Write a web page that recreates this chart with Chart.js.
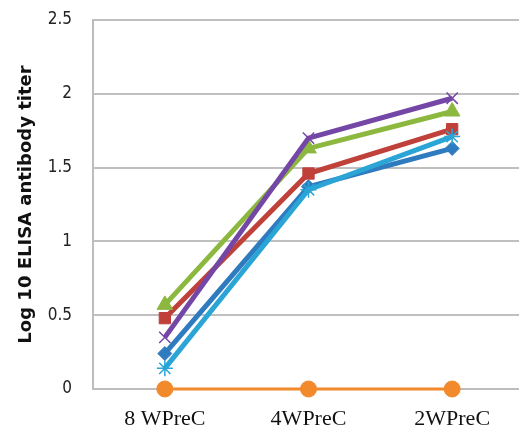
<!DOCTYPE html>
<html>
<head>
<meta charset="utf-8">
<script src="https://cdn.jsdelivr.net/npm/chart.js@4.4.0/dist/chart.umd.min.js"></script>
<style>
html,body{margin:0;padding:0;background:#fff;overflow:hidden;}
#wrap{position:relative;width:524px;height:439px;}
</style>
</head>
<body>
<div id="wrap"><canvas id="c"></canvas></div>
<script>
const categories = ["8 WPreC", "4WPreC", "2WPreC"];
const yTicks = [0, 0.5, 1, 1.5, 2, 2.5];
const seriesBlue   = [0.24, 1.37, 1.63];
const seriesRed    = [0.48, 1.46, 1.76];
const seriesGreen  = [0.57, 1.63, 1.88];
const seriesPurple = [0.35, 1.70, 1.97];
const seriesCyan   = [0.14, 1.35, 1.71];
const seriesOrange = [0, 0, 0];

function ds(data, color, style, radius, ord, extra) {
  return Object.assign({
    data: data,
    borderColor: color,
    backgroundColor: color,
    pointBackgroundColor: color,
    pointBorderColor: color,
    borderWidth: 5,
    pointStyle: style,
    pointRadius: radius,
    pointBorderWidth: 1,
    tension: 0,
    clip: false,
    order: ord
  }, extra || {});
}

new Chart(document.getElementById('c'), {
  type: 'line',
  data: {
    labels: categories,
    datasets: [
      ds(seriesBlue,   '#2f7bc0', 'rectRot',  7, 6),
      ds(seriesRed,    '#c0403a', 'rect',     8, 5),
      ds(seriesGreen,  '#8cb83f', 'triangle', 9, 4),
      ds(seriesPurple, '#7447a6', 'crossRot', 8, 3, {pointBorderWidth: 1.5}),
      ds(seriesCyan,   '#2aa5d6', 'star',     8, 2, {pointBorderWidth: 1.5}),
      ds(seriesOrange, '#f28a2c', 'circle',   8, 1, {borderWidth: 3})
    ]
  },
  options: {
    responsive: true,
    maintainAspectRatio: false,
    animation: false,
    layout: { autoPadding: false, padding: { top: 20, left: 0, right: 0, bottom: 0 } },
    plugins: { legend: { display: false }, tooltip: { enabled: false } },
    scales: {
      x: {
        offset: true,
        grid: { display: false, drawTicks: false },
        border: { color: '#bdbdbd', width: 2 },
        ticks: {
          color: '#111',
          padding: 17,
          font: { family: '"Liberation Serif", "Times New Roman", serif', size: 22 }
        },
        afterFit: s => { s.height = 50; s.paddingLeft = 0; s.paddingRight = 0; }
      },
      y: {
        min: 0,
        max: 2.5,
        afterBuildTicks: s => { s.ticks = yTicks.map(v => ({ value: v })); },
        grid: { color: '#bfbfbf', lineWidth: 2, drawTicks: false },
        border: { color: '#bdbdbd', width: 2 },
        ticks: {
          color: '#222',
          padding: 21,
          font: { family: '"DejaVu Sans Condensed", "DejaVu Sans", sans-serif', size: 17 },
          callback: v => String(v)
        },
        title: {
          display: true,
          text: 'Log 10 ELISA antibody titer',
          color: '#111',
          padding: { top: 16, bottom: 0 },
          font: { family: '"DejaVu Sans", Verdana, sans-serif', size: 18, weight: 'bold' }
        },
        afterFit: s => { s.width = 93; s.paddingTop = 0; s.paddingBottom = 0; }
      }
    }
  }
});
</script>
</body>
</html>
